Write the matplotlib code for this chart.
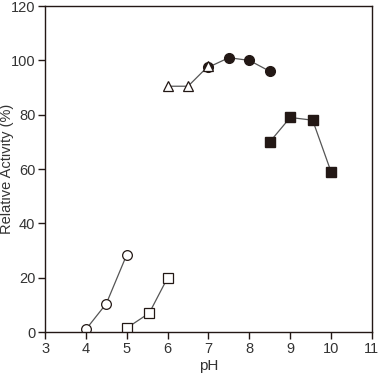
import matplotlib
matplotlib.use("Agg")
import matplotlib.pyplot as plt

plt.rcParams['font.family'] = ['Liberation Sans', 'DejaVu Sans']
plt.rcParams['font.size'] = 10

# data
ph_oc = [4.0, 4.5, 5.0]
act_oc = [1.0, 10.5, 28.5]
ph_os = [5.0, 5.55, 6.0]
act_os = [1.5, 7.0, 20.0]
ph_tri = [6.0, 6.5, 7.0]
act_tri = [90.5, 90.5, 98.0]
ph_fc = [7.0, 7.5, 8.0, 8.5]
act_fc = [97.5, 101.0, 100.0, 96.0]
ph_fs = [8.5, 9.0, 9.55, 10.0]
act_fs = [70.0, 79.0, 78.0, 59.0]

ink = '#231815'
line = '#555555'

fig = plt.figure(figsize=(3.85, 3.8), dpi=100)
ax = fig.add_axes([0.117, 0.126, 0.849, 0.858])

ax.plot(ph_oc, act_oc, color=line, lw=0.9, marker='o', ms=7, mfc='white', mec=ink, mew=0.9)
ax.plot(ph_os, act_os, color=line, lw=0.9, marker='s', ms=6.5, mfc='white', mec=ink, mew=0.9)
ax.plot(ph_fc, act_fc, color=line, lw=0.9, marker='o', ms=7, mfc=ink, mec=ink)
ax.plot(ph_tri, act_tri, color=line, lw=0.9, marker='^', ms=6.5, mfc='white', mec=ink, mew=0.9)
ax.plot(ph_fs, act_fs, color=line, lw=0.9, marker='s', ms=6.5, mfc=ink, mec=ink)

ax.set_xlim(3, 11)
ax.set_ylim(0, 120)
ax.set_xticks(range(3, 12))
ax.set_yticks(range(0, 121, 20))
for s in ax.spines.values():
    s.set_color(ink)
    s.set_linewidth(1.0)
ax.tick_params(direction='out', length=5, width=1.0, pad=2, colors=ink, labelcolor='#333333', labelsize=10.5)
ax.set_xlabel("pH", fontsize=11, color='#333333', labelpad=2)
ax.set_ylabel("Relative Activity (%)", fontsize=10.5, color='#333333')
ax.yaxis.set_label_coords(-0.095, 0.5)

plt.savefig("out.png", dpi=100)
